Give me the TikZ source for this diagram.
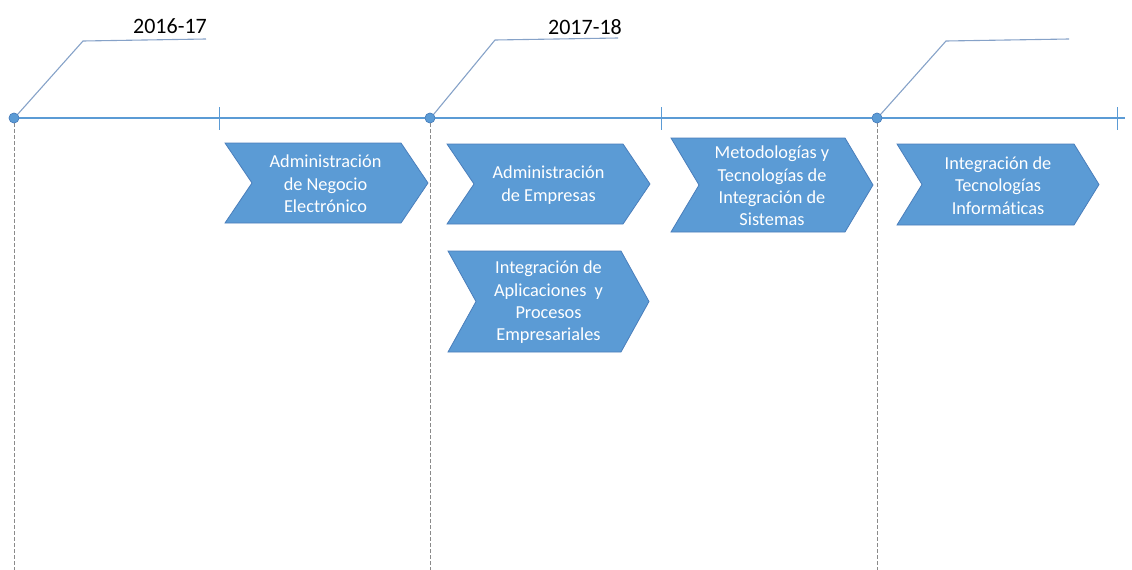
\documentclass[tikz,border=0pt]{standalone}
\usepackage{fontspec}
\setmainfont[Ligatures=NoCommon]{Carlito}
\definecolor{blu}{HTML}{5B9BD5}
\definecolor{bluedge}{HTML}{4A7EBB}
\definecolor{leader}{HTML}{86A2C8}
\definecolor{dashgray}{HTML}{8A8A8A}
\newcommand\chevshape[6]{%
  \draw[chev] (#1,#2) -- ({#3-#5},#2) -- (#3,{(#2+#4)/2}) -- ({#3-#5},#4) -- (#1,#4) -- ({#1+#5},{(#2+#4)/2}) -- cycle;
  \node[chevtext] (#6) at ({(#1+#3)/2},{(#2+#4)/2+1}) {};}
\begin{document}
\begin{tikzpicture}[x=1pt,y=-1pt,
  chev/.style={fill=blu,draw=bluedge,line width=0.8pt,line join=miter},
  chevtext/.style={inner sep=0pt,minimum size=0pt},
  label/.style={text=white,font=\fontsize{18.3}{22.3}\selectfont,align=center,inner sep=0pt},
  tline/.style={draw=blu,line width=1.2pt},
  tick/.style={draw=blu,line width=1pt},
  dot/.style={circle,fill=blu,draw=bluedge,line width=0.5pt,minimum size=10pt,inner sep=0pt},
  dashv/.style={draw=dashgray,line width=0.8pt,dash pattern=on 3.5pt off 2.5pt},
  lead/.style={draw=leader,line width=1.1pt},
  year/.style={font=\fontsize{22}{24}\selectfont,inner sep=0pt,anchor=base east}]
\useasboundingbox (0,0) rectangle (1132,570);
% dashed verticals
\coordinate (b1) at (14,570);
\coordinate (b2) at (430,570);
\coordinate (b3) at (877,570);
\node[dot] (d1) at (14,118) {};
\node[dot] (d2) at (430,118) {};
\node[dot] (d3) at (877,118) {};
\draw[dashv] (d1.south) -- (b1);
\draw[dashv] (d2.south) -- (b2);
\draw[dashv] (d3.south) -- (b3);
% timeline
\coordinate (tend) at (1125,118);
\draw[tline] (d1) -- (d2) -- (d3) -- (tend);
\node[dot] at (d1) {};
\node[dot] at (d2) {};
\node[dot] at (d3) {};
% ticks
\coordinate (t1a) at (219,107); \coordinate (t1b) at (219,130);
\coordinate (t2a) at (661,107); \coordinate (t2b) at (661,130);
\coordinate (t3a) at (1117,107); \coordinate (t3b) at (1117,130);
\draw[tick] (t1a) -- (t1b);
\draw[tick] (t2a) -- (t2b);
\draw[tick] (t3a) -- (t3b);
% leaders
\coordinate (e1) at (83,41); \coordinate (f1) at (206,39);
\coordinate (e2) at (495,40); \coordinate (f2) at (618,38);
\coordinate (e3) at (946,41); \coordinate (f3) at (1069,39);
\draw[lead] (d1.north east) -- (e1) -- (f1);
\draw[lead] (d2.north east) -- (e2) -- (f2);
\draw[lead] (d3.north east) -- (e3) -- (f3);
\node[year] (y1) at (207,33) {2016-17};
\node[year] (y2) at (622,34) {2017-18};
% chevrons
\chevshape{225}{143}{428}{223}{27}{c1}
\node[label] at ([xshift=-1pt]c1) {Administración\\de Negocio\\Electrónico};
\chevshape{447}{144}{650}{224}{27}{c2}
\node[label] at (c2) {Administración\\de Empresas};
\chevshape{448}{251}{649}{352}{28}{c3}
\node[label] at (c3) {Integración de\\Aplicaciones\ \ y\\Procesos\\Empresariales};
\chevshape{671}{138}{873}{232}{28}{c4}
\node[label] at (c4) {Metodologías y\\Tecnologías de\\Integración de\\Sistemas};
\chevshape{897}{144}{1099}{225}{25}{c5}
\node[label] at (c5) {Integración de\\Tecnologías\\Informáticas};
\end{tikzpicture}
\end{document}
